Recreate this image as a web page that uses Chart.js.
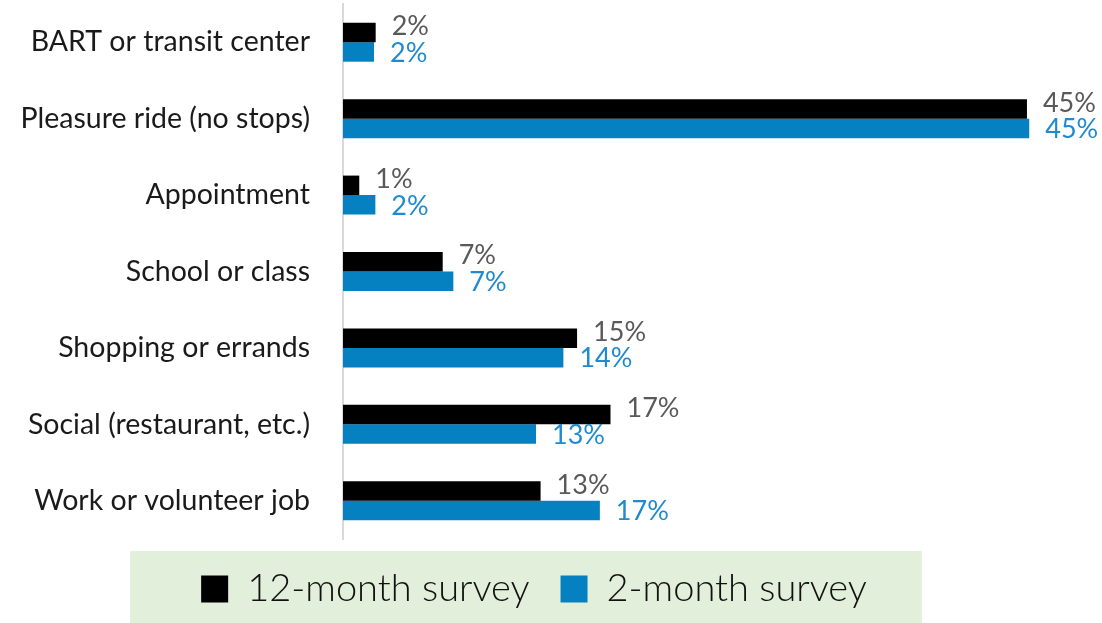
<!DOCTYPE html>
<html>
<head>
<meta charset="utf-8">
<script src="https://cdn.jsdelivr.net/npm/chart.js@4/dist/chart.umd.min.js"></script>
<style>
  html, body { margin: 0; padding: 0; background: #ffffff; }
  #wrap { width: 1102px; height: 623px; position: relative; }
</style>
</head>
<body>
<div id="wrap"><canvas id="c"></canvas></div>
<script>
const categories = [
  "BART or transit center",
  "Pleasure ride (no stops)",
  "Appointment",
  "School or class",
  "Shopping or errands",
  "Social (restaurant, etc.)",
  "Work or volunteer job"
];
const seriesNames = ["12-month survey", "2-month survey"];
const values12 = [2.15, 45.0, 1.07, 6.56, 15.4, 17.6, 13.0];
const values2  = [2.04, 45.15, 2.13, 7.26, 14.5, 12.7, 16.9];
const labels12 = ["2%", "45%", "1%", "7%", "15%", "17%", "13%"];
const labels2  = ["2%", "45%", "2%", "7%", "14%", "13%", "17%"];

const FONT = "Lato, 'Noto Sans', 'DejaVu Sans', sans-serif";

const legendBg = {
  id: 'legendBg',
  beforeDraw(chart) {
    const lg = chart.legend;
    if (!lg || !lg.legendHitBoxes || !lg.legendHitBoxes.length) return;
    const hb = lg.legendHitBoxes;
    const first = hb[0], last = hb[hb.length - 1];
    const left = first.left - 71;
    const right = last.left + last.width + 55;
    const top = lg.top + 12;
    const ctx = chart.ctx;
    ctx.save();
    ctx.fillStyle = '#e2efda';
    ctx.fillRect(left, top, right - left, chart.height - top);
    ctx.restore();
  }
};

const valueLabels = {
  id: 'valueLabels',
  afterDatasetsDraw(chart) {
    const ctx = chart.ctx;
    const sets = [
      { labels: labels12, color: '#595959', dy: -6 },
      { labels: labels2,  color: '#1f8ad0', dy: 1 }
    ];
    ctx.save();
    ctx.font = "27px " + FONT;
    ctx.textAlign = 'left';
    ctx.textBaseline = 'middle';
    sets.forEach((s, di) => {
      const meta = chart.getDatasetMeta(di);
      meta.data.forEach((bar, i) => {
        ctx.fillStyle = s.color;
        ctx.fillText(s.labels[i], bar.x + 16, bar.y + s.dy);
      });
    });
    ctx.restore();
  }
};

new Chart(document.getElementById('c'), {
  type: 'bar',
  data: {
    labels: categories,
    datasets: [
      { label: seriesNames[0], data: values12, backgroundColor: '#000000',
        categoryPercentage: 0.51, barPercentage: 1.0 },
      { label: seriesNames[1], data: values2, backgroundColor: '#0580c0',
        categoryPercentage: 0.51, barPercentage: 1.0 }
    ]
  },
  options: {
    indexAxis: 'y',
    responsive: true,
    maintainAspectRatio: false,
    animation: false,
    layout: { padding: { top: 4, right: 34, left: 0, bottom: 5 } },
    scales: {
      x: {
        display: false,
        min: 0,
        max: 47.7,
        grid: { display: false }
      },
      y: {
        grid: { display: false, drawTicks: false },
        border: { display: true, color: '#d9d9d9', width: 2 },
        ticks: {
          color: '#1a1a1a',
          padding: 33,
          font: { family: FONT, size: 28.5 }
        },
        afterFit(scale) {
          scale.width = 343;
          scale.paddingTop = 0;
          scale.paddingBottom = 0;
        }
      }
    },
    plugins: {
      tooltip: { enabled: false },
      legend: {
        position: 'bottom',
        labels: {
          boxWidth: 27,
          boxHeight: 27,
          padding: 31,
          color: '#111111',
          font: { family: FONT, size: 38, weight: '300' }
        }
      }
    }
  },
  plugins: [legendBg, valueLabels]
});
</script>
</body>
</html>
